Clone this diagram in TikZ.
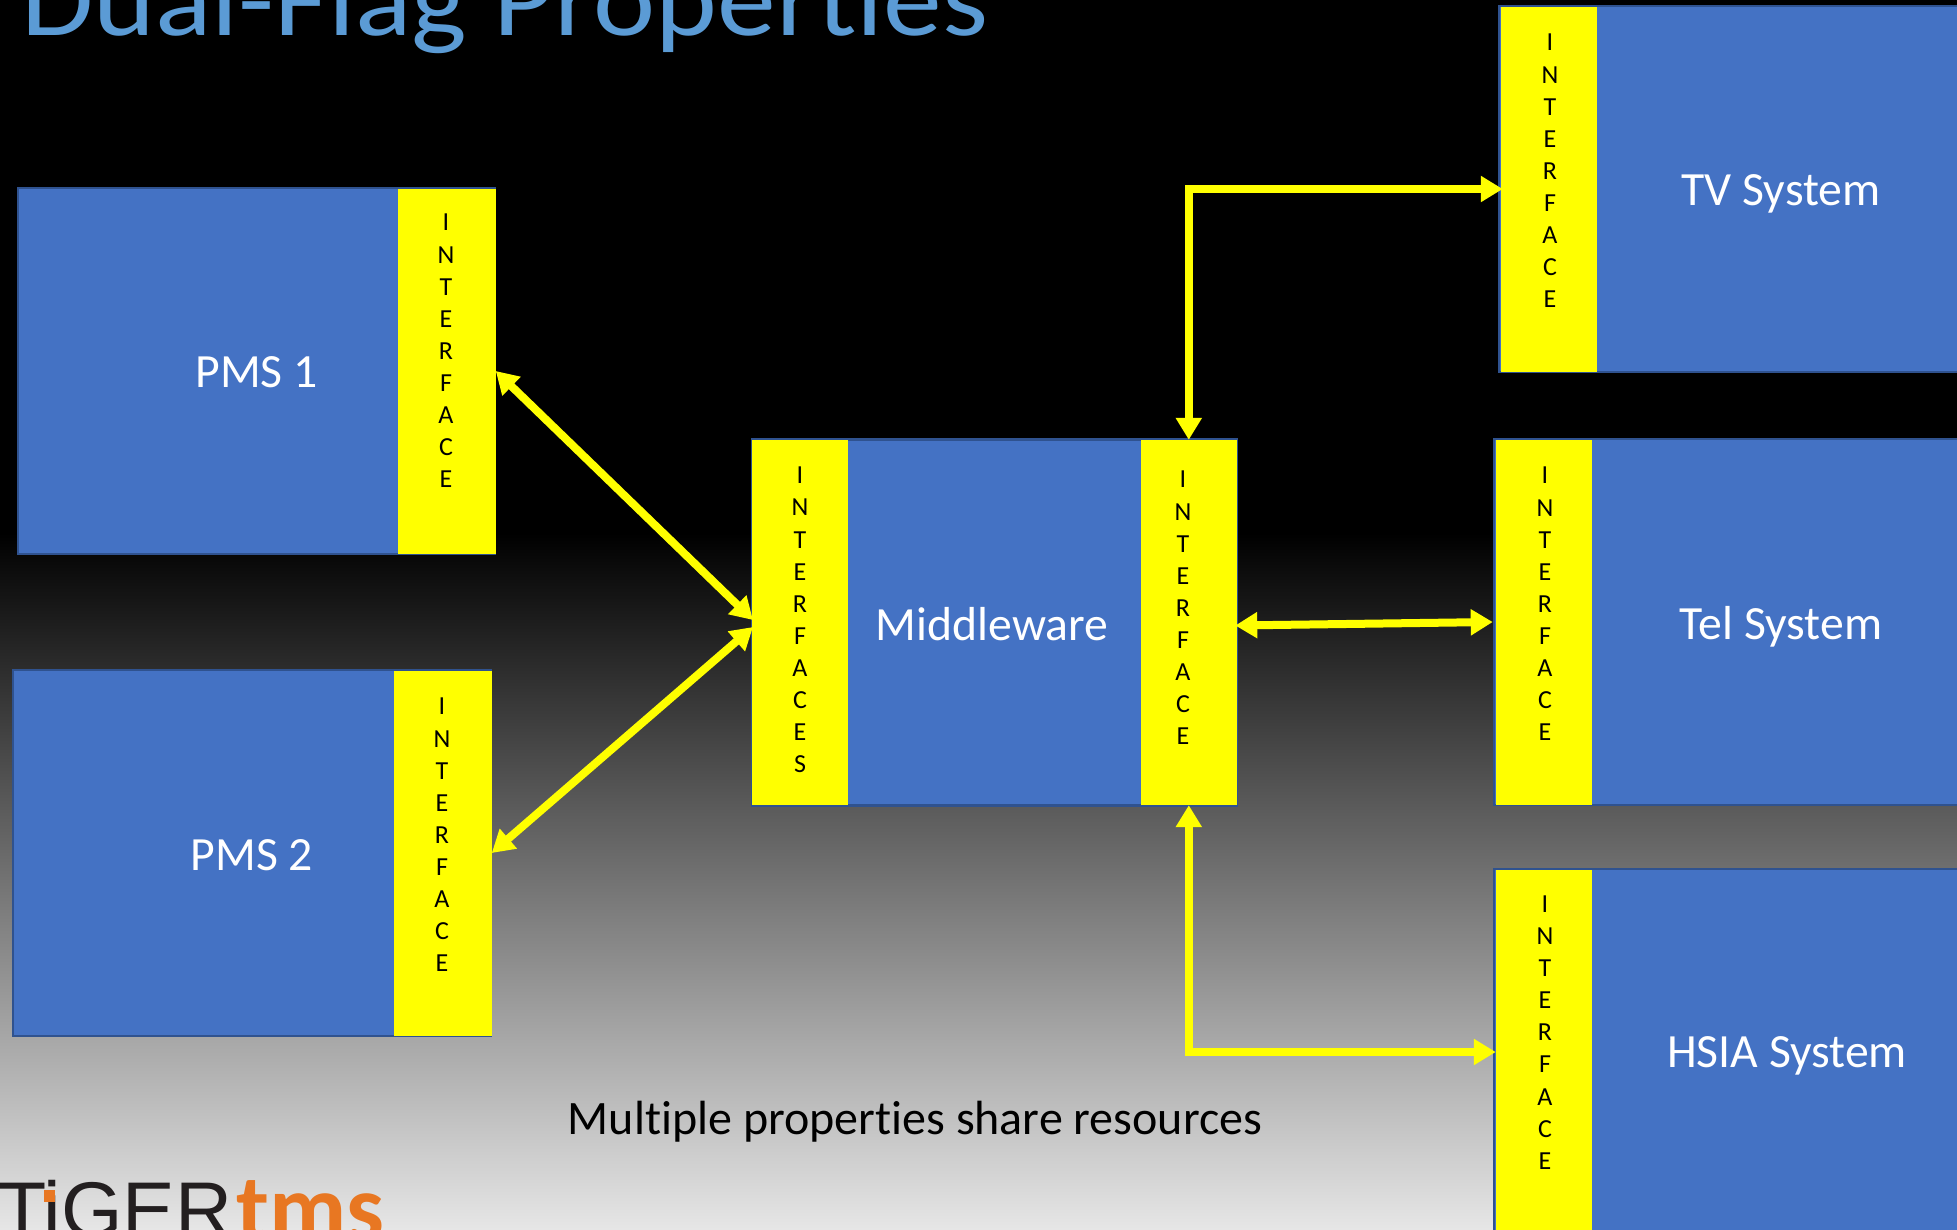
\documentclass[tikz,border=0pt]{standalone}
\usepackage{fontspec}
\setmainfont[Ligatures=CommonOff]{Carlito}
\newfontfamily\logofont{Liberation Sans}
\usetikzlibrary{arrows.meta,calc}
\definecolor{bluebox}{HTML}{4472C4}
\definecolor{blueedge}{HTML}{2F528F}
\definecolor{titleblue}{HTML}{5B9BD5}
\definecolor{logoorange}{HTML}{E87722}
\definecolor{logoblack}{HTML}{231F20}
\definecolor{bottomgrey}{HTML}{E6E6E6}
\definecolor{pureyellow}{RGB}{255,255,0}
\tikzset{
  sysbox/.style={rectangle,fill=bluebox,draw=blueedge,line width=2.5pt,inner sep=0pt,minimum height=366pt},
  syslabel/.style={inner sep=0pt,text=white,font=\fontsize{47.7}{48}\selectfont},
  ifacebox/.style={rectangle,fill=pureyellow,inner sep=0pt,minimum width=96.5pt,minimum height=365pt},
  ifacetext/.style={inner sep=0pt,align=center,text=black,font=\fontsize{26}{32.1}\selectfont},
  link/.style={draw=pureyellow,line width=8pt,{Triangle[length=22pt,width=25pt]}-{Triangle[length=22pt,width=25pt]}}
}
\begin{document}
\begin{tikzpicture}[x=1pt,y=-1pt]
\useasboundingbox (0,0) rectangle (1957,1229);
\clip (0,0) rectangle (1957,1229);
\fill[black] (0,0) rectangle (1957,534);
\shade[top color=black,bottom color=bottomgrey] (0,533) rectangle (1957,1229);
\node[anchor=base west,inner sep=0pt,text=titleblue,font=\fontsize{106}{106}\selectfont,transform shape,xscale=1.11] (title) at (21,35) {Dual-Flag Properties};
% boxes
\node[sysbox,minimum width=477pt] (pmsa) at (256.5,371) {};
\node[ifacebox,anchor=east,minimum width=97.5pt] (ipmsa) at ([xshift=-0.5pt]pmsa.east) {};
\node[syslabel] (lpmsa) at (256.5,372) {PMS 1};
\node[ifacetext] (tpmsa) at (446,351) {I\\N\\T\\E\\R\\F\\A\\C\\E};
\node[sysbox,minimum width=478pt] (pmsb) at (252,853) {};
\node[ifacebox,anchor=east,minimum width=97.5pt] (ipmsb) at ([xshift=-0.5pt]pmsb.east) {};
\node[syslabel] (lpmsb) at (252,855) {PMS 2};
\node[ifacetext] (tpmsb) at (442,835) {I\\N\\T\\E\\R\\F\\A\\C\\E};
\node[sysbox,minimum width=485pt] (mid) at (994.5,622.5) {};
\node[ifacebox,anchor=west] (imidl) at ([xshift=1pt]mid.west) {};
\node[ifacebox,anchor=east] (imidr) at ([xshift=-1pt]mid.east) {};
\node[syslabel] (lmid) at (992,624) {Middleware};
\node[ifacetext] (tmidl) at (800,620) {I\\N\\T\\E\\R\\F\\A\\C\\E\\S};
\node[ifacetext] (tmidr) at (1183,608) {I\\N\\T\\E\\R\\F\\A\\C\\E};
\node[sysbox,minimum width=562pt] (tv) at (1780,189) {};
\node[ifacebox,anchor=west] (itv) at ([xshift=3pt]tv.west) {};
\node[syslabel] (ltv) at (1781,194) {TV System};
\node[ifacetext] (ttv) at (1550,171) {I\\N\\T\\E\\R\\F\\A\\C\\E};
\node[sysbox,minimum width=572pt] (tel) at (1780,622) {};
\node[ifacebox,anchor=west] (itel) at ([xshift=3pt]tel.west) {};
\node[syslabel] (ltel) at (1781,627) {Tel System};
\node[ifacetext] (ttel) at (1545,604) {I\\N\\T\\E\\R\\F\\A\\C\\E};
\node[sysbox,minimum width=584pt] (hsia) at (1786,1052) {};
\node[ifacebox,anchor=west] (ihsia) at ([xshift=3pt]hsia.west) {};
\node[syslabel] (lhsia) at (1787,1056) {HSIA System};
\node[ifacetext] (thsia) at (1545,1032.5) {I\\N\\T\\E\\R\\F\\A\\C\\E};
% links
\coordinate (mida) at (753,620);
\coordinate (midb) at (753,627);
\draw[link] (ipmsa.east) -- (mida);
\draw[link] (ipmsb.east) -- (midb);
\draw[link] (imidr.north) |- ([xshift=2pt]itv.west);
\draw[link] ([xshift=-2pt,yshift=-3pt]imidr.east) -- (tel.west);
\draw[link] (imidr.south) |- (ihsia.west);
% caption
\node[inner sep=0pt,text=black,font=\fontsize{48}{48}\selectfont] (cap) at (915,1122) {Multiple properties share resources};
% logo
\node[anchor=base west,inner sep=0pt,text=logoblack,font=\logofont\fontsize{79}{79}\selectfont] (tiger) at (-2,1237) {TiGER};
\fill[logoorange] (44,1190) rectangle (55,1202);
\node[anchor=base west,inner sep=0pt,text=logoorange,font=\bfseries\fontsize{95}{95}\selectfont] (tms) at (236,1240) {tms};
\end{tikzpicture}
\end{document}
